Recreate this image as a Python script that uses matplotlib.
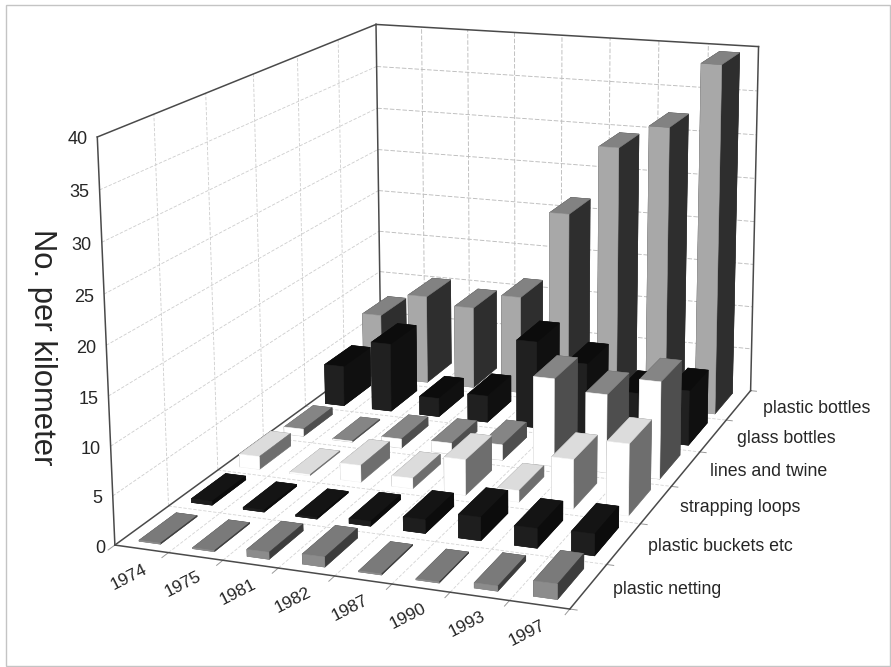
import numpy as np
import matplotlib
matplotlib.use("Agg")
import matplotlib.pyplot as plt
from matplotlib.patches import Rectangle

plt.rcParams['font.family'] = ['Liberation Sans', 'DejaVu Sans']

years = ['1974', '1975', '1981', '1982', '1987', '1990', '1993', '1997']
series = ['plastic netting', 'plastic buckets etc', 'strapping loops',
          'lines and twine', 'glass bottles', 'plastic bottles']
plastic_netting = [0.1, 0.1, 0.7, 1.0, 0.1, 0.1, 0.5, 1.5]
plastic_buckets = [0.4, 0.2, 0.15, 0.5, 1.4, 2.4, 2.0, 2.2]
strapping_loops = [1.4, 0.1, 1.8, 1.1, 3.8, 1.2, 5.2, 7.5]
lines_and_twine = [0.8, 0.1, 1.0, 1.2, 1.7, 9.6, 8.5, 10.5]
glass_bottles = [4.6, 7.8, 2.1, 3.0, 9.8, 7.9, 5.2, 6.1]
plastic_bottles = [7.5, 10.3, 9.5, 11.3, 21.5, 29.5, 32.2, 39.5]
values = [plastic_netting, plastic_buckets, strapping_loops,
          lines_and_twine, glass_bottles, plastic_bottles]
z_ticks = [0, 5, 10, 15, 20, 25, 30, 35, 40]

# per series: front, top, side colours
face_colors = [('#8c8c8c', '#7a7a7a', '#3c3c3c'),
               ('#1e1e1e', '#141414', '#0c0c0c'),
               ('#ffffff', '#dcdcdc', '#6e6e6e'),
               ('#ffffff', '#858585', '#4e4e4e'),
               ('#202020', '#0c0c0c', '#101010'),
               ('#a8a8a8', '#828282', '#2e2e2e')]

W, H_PX = 891, 667
nx, ny, zmax = len(years), len(series), 40

# camera calibration: box corners -> reference pixels
world = [(0, 0, 0), (0, 0, zmax), (0, ny, zmax), (nx, ny, zmax),
         (nx, ny, 0), (nx, 0, 0), (0, ny, 0)]
pixel = [(114, 546), (98, 137), (375, 25), (759, 46),
         (750, 392), (570, 608), (382, 350)]
rows = []
for (X, Y, Z), (u, v) in zip(world, pixel):
    rows.append([X, Y, Z, 1, 0, 0, 0, 0, -u*X, -u*Y, -u*Z, -u])
    rows.append([0, 0, 0, 0, X, Y, Z, 1, -v*X, -v*Y, -v*Z, -v])
P = np.linalg.svd(np.array(rows, float))[2][-1].reshape(3, 4)
if P[2] @ np.array([nx/2, ny/2, 0, 1]) < 0:
    P = -P
P = P / np.linalg.norm(P[2, :3])


def project(x, y, z):
    q = P @ np.array([x, y, z, 1.0])
    return q[0]/q[2], q[1]/q[2]


fig = plt.figure(figsize=(W/100, H_PX/100), dpi=100, facecolor='white')
ax = fig.add_axes([0, 0, 1, 1], projection='3d', computed_zorder=False)
ax.apply_aspect = lambda position=None: None
ax.set_axis_off()
ax.patch.set_visible(False)


def custom_proj():
    inv = ax.transData.inverted()
    (x0, y0), (x1, y1) = inv.transform([(0, H_PX), (W, 0)])
    a, c = (x1-x0)/W, x0
    b, d = (y1-y0)/H_PX, y0
    M = np.zeros((4, 4))
    M[0] = a*P[0] + c*P[2]
    M[1] = b*P[1] + d*P[2]
    M[2] = [0, 0, 0, -1]
    M[3] = P[2]
    return M


ax.get_proj = custom_proj

wall_grid = dict(color='#bcbcbc', lw=0.65, ls=(0, (5, 2)), zorder=1)
side_grid = dict(color='#cdcdcd', lw=0.6, ls=(0, (4, 2)), zorder=1)
floor_grid = dict(color='#d4d4d4', lw=0.6, ls=(0, (4, 2)), zorder=1)
frame = dict(color='#4a4a4a', lw=1.1, zorder=2)
for z in z_ticks[1:-1]:
    ax.plot([0, 0], [0, ny], [z, z], **side_grid)
    ax.plot([0, nx], [ny, ny], [z, z], **wall_grid)
for i in range(1, nx):
    ax.plot([i, i], [ny, ny], [0, zmax], **wall_grid)
    ax.plot([i, i], [0, ny], [0, 0], **floor_grid)
for j in range(1, ny):
    ax.plot([0, 0], [j, j], [0, zmax], **side_grid)
    ax.plot([0, nx], [j, j], [0, 0], **floor_grid)
for i in range(nx+1):
    ax.plot([i, i], [0, -0.12], [0, 0], color='#999999', lw=0.7, zorder=2)
for j in range(ny+1):
    ax.plot([nx, nx+0.12], [j, j], [0, 0], color='#999999', lw=0.7, zorder=2)

for a_, b_ in [((0, 0, 0), (0, 0, zmax)), ((0, 0, zmax), (0, ny, zmax)),
               ((0, ny, zmax), (nx, ny, zmax)), ((nx, ny, zmax), (nx, ny, 0)),
               ((0, ny, zmax), (0, ny, 0)), ((0, 0, 0), (nx, 0, 0)),
               ((nx, 0, 0), (nx, ny, 0)), ((0, 0, 0), (0, ny, 0))]:
    ax.plot(*zip(a_, b_), **frame)

bar_w, bar_d = 0.4, 0.7
order = 10
for j in range(ny-1, -1, -1):
    front, top, side = face_colors[j]
    cols = [top, top, front, side, side, side]
    for i in range(nx):
        ax.bar3d(i + (1-bar_w)/2, j + (1-bar_d)/2, 0, bar_w, bar_d, values[j][i],
                 color=cols, edgecolors=cols, linewidths=0.4, shade=False,
                 zorder=order)
        order += 1

ax.set_xlim(0, nx)
ax.set_ylim(0, ny)
ax.set_zlim(0, zmax)


def label(px, s, **kw):
    ax.text2D(px[0]/W, 1-px[1]/H_PX, s, transform=ax.transAxes, color='#262626', **kw)


for z in z_ticks:
    u, v = project(0, 0, z)
    label((u-10, v+3), str(z), ha='right', va='center', fontsize=13)
for i, yr in enumerate(years):
    u, v = project(i+0.5, 0, 0)
    label((u-13, v+28), yr, ha='center', va='center', rotation=27,
          rotation_mode='anchor', fontsize=12.5)
for j, s in enumerate(series):
    u, v = project(nx, j+0.5, 0)
    label((u+24, v+3), s, ha='left', va='center', fontsize=12.8)
label((42, 347), 'No. per kilometer', ha='center', va='center', rotation=270, fontsize=22.3)

fig.add_artist(Rectangle((6/W, 1/H_PX), (890-6)/W, (662-1)/H_PX, transform=fig.transFigure,
                         fill=False, ec='#c4c4c4', lw=1))
fig.savefig('out.png', dpi=100)
